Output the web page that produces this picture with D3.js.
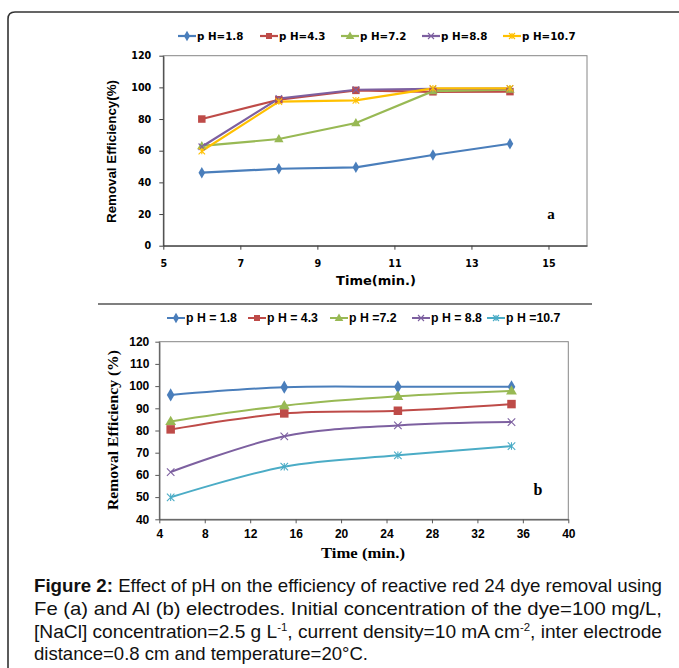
<!DOCTYPE html>
<html><head><meta charset="utf-8">
<script src="https://cdn.jsdelivr.net/npm/d3@7"></script>
<style>body{margin:0;background:#fff}svg{display:block}</style>
</head><body>
<svg id="c" width="679" height="668"></svg>
<script>
// ---------- DATA ----------
const seriesNamesA = ["p H=1.8","p H=4.3","p H=7.2","p H=8.8","p H=10.7"];
const timeA = [6, 8, 10, 12, 14];
const ph18A = [46.1, 48.6, 49.5, 57.3, 64.4];
const ph43A = [80.0, 92.2, 98.1, 97.2, 97.3];
const ph72A = [63.0, 67.4, 77.5, 97.6, 98.6];
const ph88A = [62.5, 93.0, 98.5, 99.0, 99.2];
const ph107A = [59.8, 91.0, 91.8, 99.4, 99.4];
const xTicksA = [5, 7, 9, 11, 13, 15];
const yTicksA = [0, 20, 40, 60, 80, 100, 120];

const seriesNamesB = ["p H = 1.8","p H = 4.3","p H =7.2","p H = 8.8","p H =10.7"];
const timeB = [5, 15, 25, 35];
const ph18B = [96.0, 99.5, 99.7, 99.7];
const ph43B = [80.5, 87.7, 88.9, 91.9];
const ph72B = [84.1, 91.2, 95.4, 97.8];
const ph88B = [61.3, 77.4, 82.3, 83.8];
const ph107B = [49.9, 63.7, 68.8, 73.0];
const xTicksB = [4, 8, 12, 16, 20, 24, 28, 32, 36, 40];
const yTicksB = [40, 50, 60, 70, 80, 90, 100, 110, 120];

// ---------- STYLE ----------
const colorsA = ["#4A7EBB","#BE4B48","#98B954","#7D60A0","#FFC000"];
const colorsB = ["#4A7EBB","#BE4B48","#98B954","#7D60A0","#4BACC6"];
const markersA = ["diamond","square","triangle","x","star"];
const markersB = ["diamond","square","triangle","x","star"];

const svg = d3.select("#c");

svg.append("path")
  .attr("d","M8,668 L8,19 Q8,12 15,12 L679,12")
  .attr("fill","none").attr("stroke","#333").attr("stroke-width",1.6);

function drawMarker(g, type, x, y, s, color){
  if(type==="diamond"){
    g.append("path").attr("d", d3.symbol(d3.symbolDiamond, s*s*0.9)()).attr("transform",`translate(${x},${y})`).attr("fill",color);
  } else if(type==="square"){
    g.append("path").attr("d", d3.symbol(d3.symbolSquare, s*s)()).attr("transform",`translate(${x},${y})`).attr("fill",color);
  } else if(type==="triangle"){
    g.append("path").attr("d", d3.symbol(d3.symbolTriangle, s*s*0.9)()).attr("transform",`translate(${x},${y+0.5})`).attr("fill",color);
  } else {
    const h=s/2;
    let d=`M${-h},${-h}L${h},${h}M${-h},${h}L${h},${-h}`;
    if(type==="star") d+=`M0,${-h}L0,${h}`;
    g.append("path").attr("d",d).attr("transform",`translate(${x},${y})`).attr("fill","none").attr("stroke",color).attr("stroke-width",1.1);
  }
}

// ---------- CHART A ----------
{
  const x = d3.scaleLinear().domain([5,16]).range([163.3,587]);
  const y = d3.scaleLinear().domain([0,120]).range([245.7,55.7]);
  const g = svg.append("g");
  g.append("rect").attr("x",x(5)).attr("y",y(120)).attr("width",x(16)-x(5)).attr("height",y(0)-y(120))
    .attr("fill","none").attr("stroke","#868686").attr("stroke-width",1);
  const ya = g.append("g").attr("transform",`translate(${x(5)},0)`)
    .call(d3.axisLeft(y).tickValues(yTicksA).tickSize(4).tickPadding(8).tickSizeOuter(0));
  const xa = g.append("g").attr("transform",`translate(0,${y(0)})`)
    .call(d3.axisBottom(x).tickValues(xTicksA).tickSize(4).tickPadding(10).tickSizeOuter(0));
  [ya,xa].forEach(a=>{
    a.select(".domain").attr("stroke","#404040").attr("stroke-width",1.2);
    a.selectAll(".tick line").attr("stroke","#404040");
    a.selectAll("text").attr("font-family","DejaVu Sans, Verdana, sans-serif").attr("font-weight","bold").attr("font-size",9.6).attr("fill","#000");
  });
  const series = [ph18A, ph43A, ph72A, ph88A, ph107A];
  const line = d3.line().x(d=>x(d[0])).y(d=>y(d[1]));
  series.forEach((vals,i)=>{
    const pts = timeA.map((t,j)=>[t,vals[j]]);
    g.append("path").attr("d",line(pts)).attr("fill","none").attr("stroke",colorsA[i]).attr("stroke-width",2.2);
  });
  series.forEach((vals,i)=>{
    timeA.forEach((t,j)=>drawMarker(g, markersA[i], x(t), y(vals[j]), i===1?7.5:6.5, colorsA[i]));
  });
  g.append("text").attr("x",376).attr("y",285).attr("text-anchor","middle")
    .attr("font-family","DejaVu Sans, Verdana, sans-serif").attr("font-weight","bold").attr("font-size",13).text("Time(min.)");
  g.append("text").attr("transform","translate(116,151.5) rotate(-90)").attr("text-anchor","middle")
    .attr("font-family","Liberation Sans, Arial, sans-serif").attr("font-weight","bold").attr("font-size",12.5)
    .attr("textLength",143).attr("lengthAdjust","spacingAndGlyphs").text("Removal Efficiency(%)");
  g.append("text").attr("x",551).attr("y",219).attr("text-anchor","middle")
    .attr("font-family","Liberation Serif, Times New Roman, serif").attr("font-weight","bold").attr("font-size",15).text("a");
  const legX = [178,260,341,422,503];
  seriesNamesA.forEach((n,i)=>{
    const lg = g.append("g");
    lg.append("line").attr("x1",legX[i]).attr("x2",legX[i]+18).attr("y1",36).attr("y2",36).attr("stroke",colorsA[i]).attr("stroke-width",2.2);
    drawMarker(lg, markersA[i], legX[i]+9, 36, 6, colorsA[i]);
    lg.append("text").attr("x",legX[i]+19).attr("y",39.8)
      .attr("font-family","DejaVu Sans, Verdana, sans-serif").attr("font-weight","bold").attr("font-size",10.3).text(n);
  });
}

svg.append("line").attr("x1",98).attr("x2",592).attr("y1",304).attr("y2",304).attr("stroke","#555").attr("stroke-width",1.5);

// ---------- CHART B ----------
{
  const x = d3.scaleLinear().domain([4,40]).range([159.3,568.3]);
  const y = d3.scaleLinear().domain([40,120]).range([519.3,341.7]);
  const g = svg.append("g");
  g.append("rect").attr("x",x(4)).attr("y",y(120)).attr("width",x(40)-x(4)).attr("height",y(40)-y(120))
    .attr("fill","none").attr("stroke","#868686").attr("stroke-width",1);
  const ya = g.append("g").attr("transform",`translate(${x(4)},0)`)
    .call(d3.axisLeft(y).tickValues(yTicksB).tickSize(4).tickPadding(6).tickSizeOuter(0));
  const xa = g.append("g").attr("transform",`translate(0,${y(40)})`)
    .call(d3.axisBottom(x).tickValues(xTicksB).tickSize(4).tickPadding(6).tickSizeOuter(0));
  [ya,xa].forEach(a=>{
    a.select(".domain").attr("stroke","#595959").attr("stroke-width",1.2);
    a.selectAll(".tick line").attr("stroke","#595959");
    a.selectAll("text").attr("font-family","Liberation Sans, Arial, sans-serif").attr("font-weight","bold").attr("font-size",12).attr("fill","#000");
  });
  const series = [ph18B, ph43B, ph72B, ph88B, ph107B];
  const line = d3.line().x(d=>x(d[0])).y(d=>y(d[1])).curve(d3.curveCatmullRom.alpha(0.5));
  series.forEach((vals,i)=>{
    const pts = timeB.map((t,j)=>[t,vals[j]]);
    g.append("path").attr("d",line(pts)).attr("fill","none").attr("stroke",colorsB[i]).attr("stroke-width",2);
  });
  series.forEach((vals,i)=>{
    timeB.forEach((t,j)=>drawMarker(g, markersB[i], x(t), y(vals[j]), i===1?8.5:7.5, colorsB[i]));
  });
  g.append("text").attr("x",363).attr("y",557.5).attr("text-anchor","middle")
    .attr("font-family","Liberation Serif, Times New Roman, serif").attr("font-weight","bold").attr("font-size",15)
    .attr("textLength",84).attr("lengthAdjust","spacingAndGlyphs").text("Time (min.)");
  g.append("text").attr("transform","translate(118,430) rotate(-90)").attr("text-anchor","middle")
    .attr("font-family","Liberation Serif, Times New Roman, serif").attr("font-weight","bold").attr("font-size",15.5)
    .attr("textLength",160).attr("lengthAdjust","spacingAndGlyphs")
    .text("Removal Efficiency (%)");
  g.append("text").attr("x",538).attr("y",495).attr("text-anchor","middle")
    .attr("font-family","Liberation Serif, Times New Roman, serif").attr("font-weight","bold").attr("font-size",16).text("b");
  const legX = [167,248,330,412,487];
  seriesNamesB.forEach((n,i)=>{
    const lg = g.append("g");
    lg.append("line").attr("x1",legX[i]).attr("x2",legX[i]+18).attr("y1",318).attr("y2",318).attr("stroke",colorsB[i]).attr("stroke-width",2);
    drawMarker(lg, markersB[i], legX[i]+9, 318, 6, colorsB[i]);
    lg.append("text").attr("x",legX[i]+19).attr("y",322.3)
      .attr("font-family","Liberation Sans, Arial, sans-serif").attr("font-weight","bold").attr("font-size",12.3).text(n);
  });
}

// ---------- CAPTION ----------
{
  const fam = "Liberation Sans Narrow, Arial Narrow, Liberation Sans, Arial, sans-serif";
  const left = 34, right = 662;
  const lines = [
    [{t:"Figure 2:",b:true},{t:" Effect of pH on the efficiency of reactive red 24 dye removal using"}],
    [{t:"Fe (a) and Al (b) electrodes. Initial concentration of the dye=100 mg/L,"}],
    [{t:"[NaCl] concentration=2.5 g L"},{t:"-1",sup:true},{t:", current density=10 mA cm"},{t:"-2",sup:true},{t:", inter electrode"}],
    [{t:"distance=0.8 cm and temperature=20°C."}]
  ];
  const base = [592, 615, 638, 660];
  lines.forEach((ln,i)=>{
    const t = svg.append("text").attr("x",left).attr("y",base[i])
      .attr("font-family",fam).attr("font-size",18.5).attr("fill","#111");
    if(i<3) t.attr("textLength",right-left).attr("lengthAdjust","spacingAndGlyphs");
    else t.attr("textLength",334).attr("lengthAdjust","spacingAndGlyphs");
    ln.forEach((p,k)=>{
      const ts = t.append("tspan").text(p.t);
      if(p.b) ts.attr("font-weight","bold");
      if(p.sup) ts.attr("font-size",11).attr("dy",-7);
      else if(k>0 && ln[k-1].sup) ts.attr("dy",7);
    });
  });
}
</script>
</body></html>
